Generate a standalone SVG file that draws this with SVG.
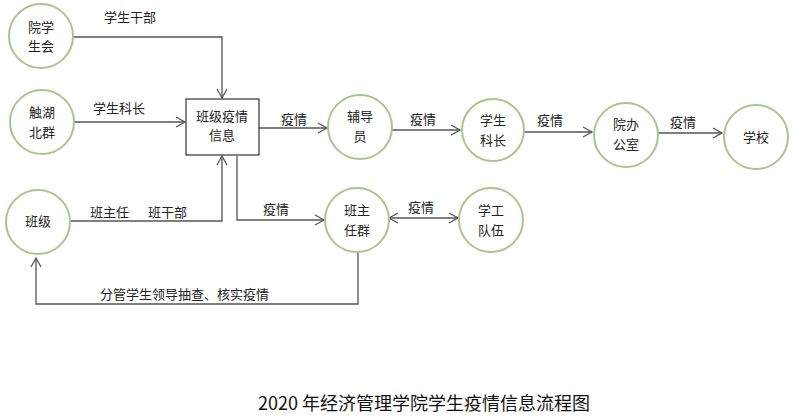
<svg xmlns="http://www.w3.org/2000/svg" width="800" height="418" viewBox="0 0 800 418">
<style>
.c{fill:#fff;stroke:#a8c68c;stroke-width:2}
.b{fill:#fff;stroke:#333;stroke-width:1.2}
.t{font-family:"Noto Sans CJK SC","Liberation Sans",sans-serif;font-size:13px;fill:#222;text-anchor:middle}
.l{font-family:"Noto Sans CJK SC","Liberation Sans",sans-serif;font-size:13px;fill:#222}
.e{fill:none;stroke:#555;stroke-width:1.3}
.title{font-family:"Noto Sans CJK SC","Liberation Sans",sans-serif;font-size:18px;fill:#111}
</style>
<defs>
<marker id="a" markerWidth="12" markerHeight="12" refX="10" refY="6" orient="auto" markerUnits="userSpaceOnUse">
<path d="M1,1 L10,6 L1,11" fill="none" stroke="#555" stroke-width="1.3"/>
</marker>
<marker id="as" markerWidth="12" markerHeight="12" refX="10" refY="6" orient="auto-start-reverse" markerUnits="userSpaceOnUse">
<path d="M1,1 L10,6 L1,11" fill="none" stroke="#555" stroke-width="1.3"/>
</marker>
</defs>
<g id="connectors">
<path class="e" d="M73,37 H222 V98" marker-end="url(#a)"/>
<path class="e" d="M74,122 H185" marker-end="url(#a)"/>
<path class="e" d="M71,221 H222 V156" marker-end="url(#a)"/>
<path class="e" d="M237,156 V220 H324" marker-end="url(#a)"/>
<path class="e" d="M259,128 H327" marker-end="url(#a)"/>
<path class="e" d="M392,130 H460" marker-end="url(#a)"/>
<path class="e" d="M524,132 H592" marker-end="url(#a)"/>
<path class="e" d="M658,133 H722" marker-end="url(#a)"/>
<path class="e" d="M389,218 H458" stroke-width="2" marker-start="url(#as)" marker-end="url(#as)"/>
<path class="e" d="M358,252 V304 H36 V258" marker-end="url(#a)"/>
<text class="l" x="104" y="22">学生干部</text>
<text class="l" x="93" y="113">学生科长</text>
<text class="l" x="90" y="217">班主任</text>
<text class="l" x="148" y="217">班干部</text>
<text class="l" x="263" y="214">疫情</text>
<text class="l" x="281" y="124">疫情</text>
<text class="l" x="410" y="124">疫情</text>
<text class="l" x="537" y="125">疫情</text>
<text class="l" x="670" y="127">疫情</text>
<text class="l" x="408" y="212">疫情</text>
<text class="l" x="100" y="299">分管学生领导抽查、核实疫情</text>
</g>
<g id="n-yuanxueshenghui"><circle class="c" cx="41" cy="36" r="32"/><text class="t" x="41" y="32">院学</text><text class="t" x="41" y="51">生会</text></g>
<g id="n-chuhu"><circle class="c" cx="42" cy="122" r="32"/><text class="t" x="42" y="117">触湖</text><text class="t" x="42" y="137">北群</text></g>
<g id="n-banji"><circle class="c" cx="38" cy="222" r="32"/><text class="t" x="38" y="226">班级</text></g>
<g id="n-box"><rect class="b" x="186" y="99" width="73" height="56"/><text class="t" x="222" y="121">班级疫情</text><text class="t" x="222" y="140">信息</text></g>
<g id="n-fudaoyuan"><circle class="c" cx="360" cy="127" r="32"/><text class="t" x="360" y="121">辅导</text><text class="t" x="360" y="141">员</text></g>
<g id="n-xueshengkezhang"><circle class="c" cx="493" cy="130" r="31"/><text class="t" x="493" y="125">学生</text><text class="t" x="493" y="145">科长</text></g>
<g id="n-yuanban"><circle class="c" cx="626" cy="135" r="32"/><text class="t" x="626" y="129">院办</text><text class="t" x="626" y="149">公室</text></g>
<g id="n-xuexiao"><circle class="c" cx="756" cy="137" r="32"/><text class="t" x="756" y="142">学校</text></g>
<g id="n-banzhurenqun"><circle class="c" cx="357" cy="220" r="32"/><text class="t" x="357" y="215">班主</text><text class="t" x="357" y="235">任群</text></g>
<g id="n-xuegong"><circle class="c" cx="491" cy="220" r="32"/><text class="t" x="491" y="215">学工</text><text class="t" x="491" y="235">队伍</text></g>
<text class="title" x="258" y="410">2020 年经济管理学院学生疫情信息流程图</text>
</svg>
